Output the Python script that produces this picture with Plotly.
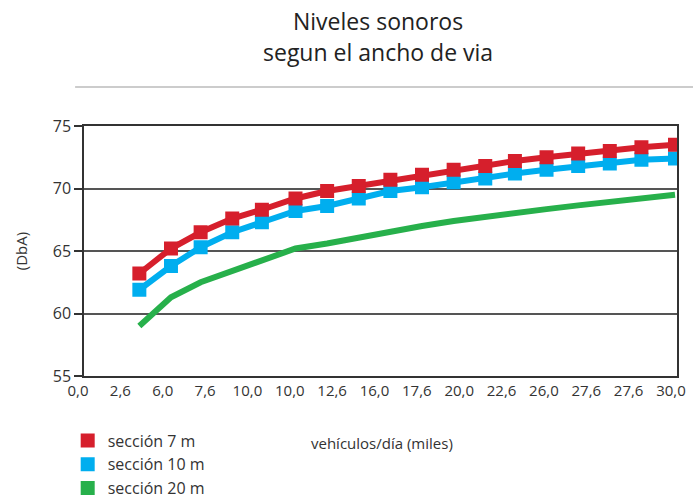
import plotly.graph_objects as go

# Traffic volume (thousands of vehicles per day) at each measurement
vehiculos = [2.8, 4.4, 5.9, 7.5, 9.0, 10.7, 12.3, 13.9, 15.5, 17.1,
             18.7, 20.3, 21.8, 23.4, 25.0, 26.6, 28.2, 29.9]

# Sound level (dBA) per street section width
seccion_7m = [63.2, 65.2, 66.5, 67.6, 68.3, 69.2, 69.8, 70.2, 70.7, 71.1,
              71.5, 71.8, 72.2, 72.5, 72.8, 73.0, 73.3, 73.5]
seccion_10m = [61.9, 63.8, 65.3, 66.5, 67.3, 68.2, 68.6, 69.2, 69.8, 70.1,
               70.5, 70.8, 71.2, 71.5, 71.8, 72.0, 72.3, 72.4]
seccion_20m = [59.0, 61.3, 62.5, 63.4, 64.3, 65.2, 65.6, 66.1, 66.6, 67.0,
               67.4, 67.75, 68.05, 68.35, 68.65, 68.95, 69.2, 69.5]

# Category-style tick labels along the x axis
x_tick_labels = ["0,0", "2,6", "6,0", "7,6", "10,0", "10,0", "12,6", "16,0",
                 "17,6", "20,0", "22,6", "26,0", "27,6", "27,6", "30,0"]

y_ticks = [55, 60, 65, 70, 75]

names = ["sección 7 m", "sección 10 m", "sección 20 m"]
colors = ["#d61f2c", "#00aeef", "#27b04b"]

FONT = "Open Sans"
TXT = "#333333"

fig = go.Figure()

fig.add_trace(go.Scatter(
    x=vehiculos, y=seccion_20m, mode="lines",
    line=dict(color=colors[2], width=6), showlegend=False))
fig.add_trace(go.Scatter(
    x=vehiculos, y=seccion_10m, mode="lines+markers",
    line=dict(color=colors[1], width=6),
    marker=dict(symbol="square", size=14, color=colors[1]),
    showlegend=False))
fig.add_trace(go.Scatter(
    x=vehiculos, y=seccion_7m, mode="lines+markers",
    line=dict(color=colors[0], width=6),
    marker=dict(symbol="square", size=14, color=colors[0]),
    showlegend=False))

# Legend entries drawn as plain squares
for i, (nm, col) in enumerate(zip(names, colors)):
    fig.add_trace(go.Scatter(
        x=[None], y=[None], mode="markers", name=nm,
        marker=dict(symbol="square", size=14, color=col),
        legendgroup=f"g{i}", showlegend=True))

n = len(x_tick_labels)
tick_pos = [30 * i / (n - 1) for i in range(n)]

title_font = dict(family=FONT, size=23, color="#222222")

fig.update_layout(
    width=693, height=500,
    margin=dict(l=84, r=16, t=126, b=124, autoexpand=False),
    paper_bgcolor="white", plot_bgcolor="white",
    font=dict(family=FONT, color=TXT, size=16),
    xaxis=dict(
        range=[0, 30], tickmode="array", tickvals=tick_pos,
        ticktext=x_tick_labels, ticks="", showgrid=False,
        showline=True, linecolor="#333333", linewidth=1.5, mirror=True,
        tickfont=dict(size=15, color=TXT), ticklabelshift=-6,
        zeroline=False),
    yaxis=dict(
        range=[55, 75], tickvals=y_ticks, ticks="outside", ticklen=8,
        tickcolor="#333333", tickwidth=1.5,
        showgrid=True, gridcolor="#555555", gridwidth=1.5,
        showline=True, linecolor="#333333", linewidth=1.5, mirror=True,
        zeroline=False, tickfont=dict(size=16, color=TXT),
        title=dict(text="(DbA)", font=dict(size=15, color=TXT), standoff=22)),
    legend=dict(
        x=-0.0275, xanchor="left", yref="container", y=0.153, yanchor="top",
        font=dict(size=16, color=TXT), tracegroupgap=0,
        bgcolor="rgba(0,0,0,0)"),
    annotations=[
        dict(text="Niveles sonoros", xref="paper", yref="paper",
             x=0.496, y=1.42, xanchor="center", yanchor="middle",
             showarrow=False, font=title_font),
        dict(text="segun el ancho de via", xref="paper", yref="paper",
             x=0.495, y=1.294, xanchor="center", yanchor="middle",
             showarrow=False, font=title_font),
        dict(text="vehículos/día (miles)", xref="paper", yref="paper",
             x=0.503, y=-0.266, xanchor="center", yanchor="middle",
             showarrow=False, font=dict(size=15, color=TXT)),
    ],
    shapes=[dict(
        type="line", xref="paper", yref="paper",
        x0=-0.015, x1=1.03, y0=1.156, y1=1.156,
        line=dict(color="#cccccc", width=2))],
)

fig.write_html("out.html")
